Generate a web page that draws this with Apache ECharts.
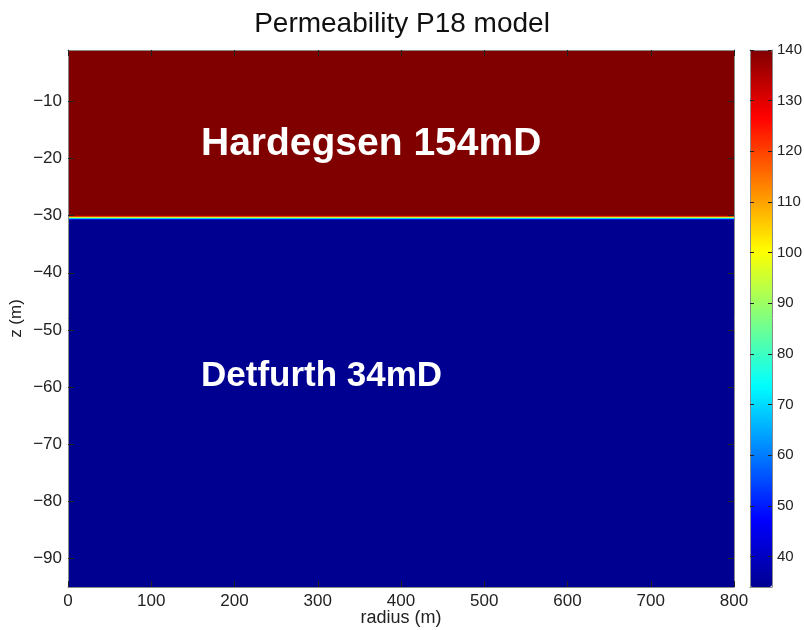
<!DOCTYPE html>
<html>
<head>
<meta charset="utf-8">
<script src="https://cdn.jsdelivr.net/npm/echarts@6/dist/echarts.min.js"></script>
<style>html,body{margin:0;padding:0;background:#fff;}#chart{width:804px;height:630px;}</style>
</head>
<body>
<div id="chart"></div>
<script>
// ---- data ----
const radiusRange = [0, 800];
const layerTop    = [-1,    -30.0, -30.18, -30.35, -30.53, -30.7];
const layerBottom = [-30.0, -30.18, -30.35, -30.53, -30.7, -95];
const layerValue  = [154,   130,    100,    75,     50,     34];
const yTicks = [-90, -80, -70, -60, -50, -40, -30, -20, -10];
const cbTicks = [40, 50, 60, 70, 80, 90, 100, 110, 120, 130, 140];
const cbRange = [34, 140];
const annotations = [
  { text: 'Hardegsen 154mD', y: 144, size: 39 },
  { text: 'Detfurth 34mD',   y: 376, size: 35 }
];
const jet = ['#000090','#0000FF','#0080FF','#00FFFF','#80FF80','#FFFF00','#FF8000','#FF0000','#800000'];

const seriesData = layerValue.map((v, i) => [radiusRange[0], radiusRange[1], layerTop[i], layerBottom[i], v]);

const FONT = '"Liberation Sans", Arial, sans-serif';
const frameColor = '#8a8a8a';
const tickStyle = { show: true, inside: true, length: 6, lineStyle: { color: '#222', width: 1 } };

const chart = echarts.init(document.getElementById('chart'), null, { renderer: 'canvas' });
chart.setOption({
  animation: false,
  backgroundColor: '#fff',
  textStyle: { fontFamily: FONT },
  title: {
    text: 'Permeability P18 model', left: 'center', top: 5,
    textStyle: { fontFamily: FONT, fontSize: 28, fontWeight: 'normal', color: '#111' }
  },
  grid: [
    { left: 68, right: 70, top: 50, bottom: 43, containLabel: false, outerBoundsMode: 'none' },
    { left: 750, width: 22, top: 50, height: 537, containLabel: false, outerBoundsMode: 'none' }
  ],
  xAxis: [
    {
      gridIndex: 0, type: 'value', min: radiusRange[0], max: radiusRange[1], interval: 100,
      position: 'bottom', z: 10,
      name: 'radius (m)', nameLocation: 'middle', nameGap: 22, nameMoveOverlap: false,
      nameTextStyle: { fontFamily: FONT, fontSize: 18, color: '#222' },
      axisLine: { show: true, lineStyle: { color: frameColor } },
      axisTick: tickStyle,
      axisLabel: { fontFamily: FONT, fontSize: 17, color: '#222', margin: 6 },
      splitLine: { show: false }
    },
    {
      gridIndex: 0, type: 'value', min: radiusRange[0], max: radiusRange[1], interval: 100,
      position: 'top', z: 10,
      axisLine: { show: true, lineStyle: { color: frameColor } },
      axisTick: tickStyle, axisLabel: { show: false }, splitLine: { show: false }
    },
    {
      gridIndex: 1, type: 'value', min: 0, max: 1, position: 'bottom', z: 10,
      axisLine: { show: true, lineStyle: { color: frameColor } },
      axisTick: { show: false }, axisLabel: { show: false }, splitLine: { show: false }
    },
    {
      gridIndex: 1, type: 'value', min: 0, max: 1, position: 'top', z: 10,
      axisLine: { show: true, lineStyle: { color: frameColor } },
      axisTick: { show: false }, axisLabel: { show: false }, splitLine: { show: false }
    }
  ],
  yAxis: [
    {
      gridIndex: 0, type: 'value', min: -95, max: -1, position: 'left', z: 10,
      name: 'z (m)', nameLocation: 'middle', nameGap: 43, nameMoveOverlap: false,
      nameTextStyle: { fontFamily: FONT, fontSize: 17, color: '#222' },
      axisLine: { show: true, onZero: false, lineStyle: { color: frameColor } },
      axisTick: Object.assign({}, tickStyle, { customValues: yTicks }),
      axisLabel: { fontFamily: FONT, fontSize: 17, color: '#222', margin: 6, customValues: yTicks,
                   formatter: v => String(v).replace('-', '\u2212') },
      splitLine: { show: false }
    },
    {
      gridIndex: 0, type: 'value', min: -95, max: -1, position: 'right', z: 10,
      axisLine: { show: true, onZero: false, lineStyle: { color: frameColor } },
      axisTick: Object.assign({}, tickStyle, { customValues: yTicks }),
      axisLabel: { show: false }, splitLine: { show: false }
    },
    {
      gridIndex: 1, type: 'value', min: cbRange[0], max: cbRange[1], position: 'right', z: 10,
      axisLine: { show: true, onZero: false, lineStyle: { color: frameColor } },
      axisTick: { show: true, inside: true, length: 4, lineStyle: { color: '#222' }, customValues: cbTicks },
      axisLabel: { fontFamily: FONT, fontSize: 15, color: '#222', margin: 5, customValues: cbTicks },
      splitLine: { show: false }
    },
    {
      gridIndex: 1, type: 'value', min: cbRange[0], max: cbRange[1], position: 'left', z: 10,
      axisLine: { show: true, onZero: false, lineStyle: { color: frameColor } },
      axisTick: { show: true, inside: true, length: 4, lineStyle: { color: '#222' }, customValues: cbTicks },
      axisLabel: { show: false }, splitLine: { show: false }
    }
  ],
  visualMap: {
    type: 'continuous', min: cbRange[0], max: cbRange[1], dimension: 4, seriesIndex: 0,
    orient: 'vertical', left: 750, top: 50, itemWidth: 22, itemHeight: 537,
    padding: 0, calculable: false, text: null, showLabel: false, hoverLink: false,
    inRange: { color: jet }
  },
  series: [
    {
      type: 'custom', xAxisIndex: 0, yAxisIndex: 0, clip: true,
      encode: { x: [0, 1], y: [2, 3] },
      data: seriesData,
      renderItem: function (params, api) {
        const p0 = api.coord([api.value(0), api.value(2)]);
        const p1 = api.coord([api.value(1), api.value(3)]);
        return {
          type: 'rect',
          shape: { x: p0[0], y: p0[1], width: p1[0] - p0[0], height: p1[1] - p0[1] + 0.5 },
          style: { fill: api.visual('color') }
        };
      }
    }
  ],
  graphic: annotations.map(a => ({
    type: 'text', x: 201, y: a.y, z: 100,
    style: { text: a.text, fill: '#fff', font: 'bold ' + a.size + 'px ' + FONT, verticalAlign: 'middle', align: 'left' }
  }))
});
</script>
</body>
</html>
